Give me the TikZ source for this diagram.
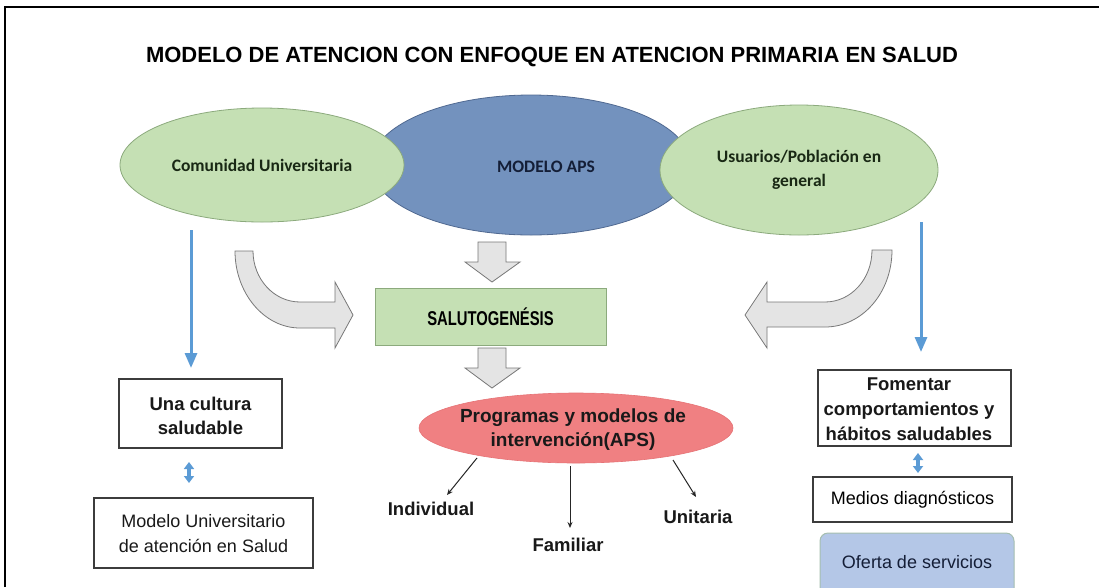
\documentclass[tikz,border=0pt]{standalone}
\usepackage{fontspec}
\usepackage{graphicx}
\setmainfont{Liberation Sans}
\newfontfamily\calfont{Carlito}
\usetikzlibrary{arrows.meta,shapes.geometric}
\definecolor{grn}{RGB}{197,224,180}
\definecolor{grnb}{RGB}{140,170,125}
\definecolor{bfill}{RGB}{115,146,190}
\definecolor{bbord}{RGB}{80,105,145}
\definecolor{rfill}{RGB}{240,128,130}
\definecolor{rbord}{RGB}{230,115,118}
\definecolor{garr}{RGB}{228,228,228}
\definecolor{garrb}{RGB}{120,120,120}
\definecolor{bline}{RGB}{91,155,213}
\definecolor{ofe}{RGB}{180,199,231}
\definecolor{ofeb}{RGB}{165,190,175}
\definecolor{boxb}{RGB}{60,60,60}
\definecolor{txtg}{RGB}{25,40,20}
\definecolor{txtb}{RGB}{20,30,55}
\begin{document}
\begin{tikzpicture}[x=1pt,y=-1pt,
  gell/.style={ellipse, fill=grn, draw=grnb, line width=0.8pt, inner sep=0pt, align=center, text=txtg, font=\calfont\bfseries\fontsize{17.5}{24}\selectfont},
  bell/.style={ellipse, fill=bfill, draw=bbord, line width=0.8pt, inner sep=0pt},
  rell/.style={ellipse, fill=rfill, draw=rbord, line width=0.6pt, inner sep=0pt},
  bbox/.style={rectangle, draw=boxb, line width=1.3pt, fill=white, inner sep=0pt, align=center},
  boldtxt/.style={font=\bfseries\fontsize{18.5}{24}\selectfont, text=black!90, align=center, inner sep=0pt},
  regtxt/.style={font=\fontsize{18}{25}\selectfont, text=black!90, align=center, inner sep=0pt},
  garrow/.style={fill=garr, draw=garrb, line width=0.8pt, line join=miter},
  bluearr/.style={draw=bline, line width=3pt, -{Triangle[length=15pt,width=12pt]}},
  bluedbl/.style={draw=bline, line width=3.5pt, {Triangle[length=7pt,width=10pt]}-{Triangle[length=7pt,width=10pt]}},
  thinarr/.style={draw=black!85, line width=1pt, -{Stealth[length=6pt,width=5pt]}}
]
\useasboundingbox (0,0) rectangle (1099,587);
\fill[white] (0,0) rectangle (1099,587);
% frame
\draw[black, line width=2pt] (4.5,587) -- (4.5,7) -- (1099,7);

% title
\node[font=\bfseries\fontsize{22}{26}\selectfont, inner sep=0pt] (title) at (552,57) {MODELO DE ATENCION CON ENFOQUE EN ATENCION PRIMARIA EN SALUD};

% ellipses
\node[bell, minimum width=320pt, minimum height=140pt] (aps) at (531,165) {};
\node[font=\calfont\bfseries\fontsize{17.5}{24}\selectfont, text=txtb, inner sep=0pt] (apst) at (546,167) {MODELO APS};
\node[gell, minimum width=284pt, minimum height=114pt] (com) at (262,165) {Comunidad Universitaria};
\node[gell, minimum width=278pt, minimum height=130pt] (usu) at (799,170) {Usuarios/Población en\\general};

% gray block arrows
\draw[garrow] (235,251) -- (253,251) .. controls (253,279) and (274,302) .. (300,302) -- (335,302) -- (335,282) -- (353,315) -- (335,348) -- (335,328) -- (300,328) .. controls (264,328) and (235,293) .. (235,251) -- cycle;
\draw[garrow] (892,250) -- (872,250) .. controls (872,279) and (851,302) .. (825,302) -- (767,302) -- (767,282) -- (745,315) -- (767,348) -- (767,327) -- (825,327) .. controls (862,327) and (892,293) .. (892,250) -- cycle;
\draw[garrow] (478,242) -- (506,242) -- (506,262) -- (520,262) -- (492,282) -- (465,262) -- (478,262) -- cycle;
\draw[garrow] (478,348) -- (506,348) -- (506,368) -- (520,368) -- (492,388) -- (465,368) -- (478,368) -- cycle;

% salutogenesis
\node[rectangle, fill=grn, draw=grnb, line width=1pt, minimum width=231pt, minimum height=57pt, inner sep=0pt] (salu) at (490.5,316.5) {\scalebox{0.74}[1]{\bfseries\fontsize{20}{24}\selectfont SALUTOGENÉSIS}};

% programas
\node[rell, minimum width=314pt, minimum height=70pt] (prog) at (576,428) {};
\node[font=\bfseries\fontsize{19}{24}\selectfont, align=center, text=black!90, inner sep=0pt] (progt) at (573,430) {Programas y modelos de\\intervención(APS)};

% branch labels
\node[boldtxt] (ind) at (431,509) {Individual};
\node[boldtxt] (fam) at (568,545) {Familiar};
\node[boldtxt] (uni) at (698,517) {Unitaria};
\coordinate (i1) at (477,458); \coordinate (i2) at (447,495);
\coordinate (f1) at (570,466); \coordinate (f2) at (570,528);
\coordinate (u1) at (673,460); \coordinate (u2) at (696,497);
\draw[thinarr] (i1) -- (i2);
\draw[thinarr] (f1) -- (f2);
\draw[thinarr] (u1) -- (u2);

% left column
\coordinate (bl1) at (191,230); \coordinate (bl2) at (191,368);
\draw[bluearr] (bl1) -- (bl2);
\node[bbox, minimum width=163pt, minimum height=69pt] (cult) at (200.5,413.5) {};
\node[boldtxt] (cultt) at (200.5,416) {Una cultura\\saludable};
\coordinate (ld1) at (189,462); \coordinate (ld2) at (189,483);
\draw[bluedbl] (ld1) -- (ld2);
\node[bbox, minimum width=219pt, minimum height=70pt] (muni) at (203.5,533) {};
\node[regtxt] (munit) at (203.5,534) {Modelo Universitario\\de atención en Salud};

% right column
\coordinate (br1) at (921,222); \coordinate (br2) at (921,352);
\draw[bluearr] (br1) -- (br2);
\node[bbox, minimum width=193pt, minimum height=76pt] (fom) at (914.5,408) {};
\node[font=\bfseries\fontsize{18.5}{25}\selectfont, align=center, text=black!90, inner sep=0pt] (fomt) at (909,409) {Fomentar\\comportamientos y\\hábitos saludables};
\coordinate (rd1) at (918,453); \coordinate (rd2) at (918,473);
\draw[bluedbl] (rd1) -- (rd2);
\node[bbox, minimum width=199pt, minimum height=45pt, font=\fontsize{18}{22}\selectfont] (med) at (912.5,499.5) {Medios diagnósticos};
\node[rectangle, rounded corners=8pt, fill=ofe, draw=ofeb, line width=1pt, minimum width=194pt, minimum height=66pt, inner sep=0pt] (ofer) at (917,566) {};
\node[font=\fontsize{18}{22}\selectfont, text=txtb, inner sep=0pt] (ofert) at (917,562) {Oferta de servicios};
\end{tikzpicture}
\end{document}
